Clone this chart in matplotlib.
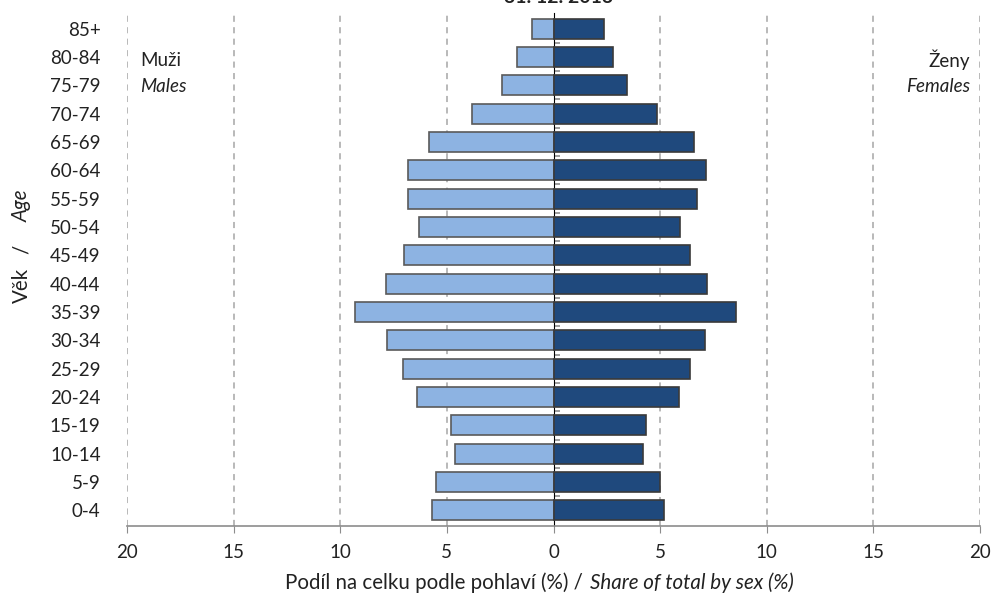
import matplotlib.pyplot as plt
import numpy as np

plt.rcParams['font.family'] = ['Lato', 'DejaVu Sans']

# věkové skupiny a podíly (%) podle pohlaví
vek = ['0-4', '5-9', '10-14', '15-19', '20-24', '25-29', '30-34', '35-39', '40-44',
       '45-49', '50-54', '55-59', '60-64', '65-69', '70-74', '75-79', '80-84', '85+']
muzi = [5.7, 5.5, 4.6, 4.8, 6.4, 7.05, 7.8, 9.3, 7.85,
        7.0, 6.3, 6.8, 6.8, 5.85, 3.8, 2.4, 1.7, 1.0]
zeny = [5.2, 5.0, 4.2, 4.35, 5.9, 6.4, 7.1, 8.55, 7.2,
        6.4, 5.95, 6.75, 7.15, 6.6, 4.85, 3.45, 2.8, 2.35]

y = np.arange(len(vek))
seda = '#8c8c8c'
txt = '#222222'
fs = 13.5

fig = plt.figure(figsize=(9.94, 6.02), dpi=100)
ax = fig.add_axes([127/994, 76/602, (980-127)/994, (589-76)/602])

# mřížka
for x in range(-20, 21, 5):
    if x != 0:
        ax.axvline(x, color='#a6a6a6', lw=1.1, ls=(0, (4, 3.5)), zorder=0)

ax.barh(y, -np.array(muzi), height=0.7, color='#8db3e2', edgecolor='#5a5a5a', lw=1.2, zorder=2)
ax.barh(y, zeny, height=0.7, color='#1f497d', edgecolor='#3a3a3a', lw=1.2, zorder=2)

ax.set_xlim(-20, 20)
ax.set_ylim(-0.55, len(vek) - 0.45)

ax.set_xticks(range(-20, 21, 5))
ax.set_xticklabels([str(abs(v)) for v in range(-20, 21, 5)], fontsize=fs, color=txt)
ax.set_yticks(y)
ax.set_yticklabels(vek, fontsize=fs, color=txt)
ax.tick_params(axis='y', length=0, pad=19)
ax.tick_params(axis='x', length=5, color=seda, pad=8)

for s in ['top', 'right', 'left']:
    ax.spines[s].set_visible(False)
ax.spines['bottom'].set_color(seda)
ax.spines['bottom'].set_linewidth(1.2)

# středová osa s dělicími značkami
osa = ax.secondary_yaxis(0.5)
osa.set_yticks(y[:-1] + 0.5)
osa.set_yticklabels([])
osa.tick_params(length=4, color=seda, width=1.2)
osa.spines['left'].set_color(seda)
osa.spines['left'].set_linewidth(1.2)

ax.text(0.015, 0.908, 'Muži', transform=ax.transAxes, fontsize=fs, color=txt, va='center')
ax.text(0.015, 0.856, 'Males', transform=ax.transAxes, fontsize=fs, color=txt,
        va='center', style='italic')
ax.text(0.988, 0.908, 'Ženy', transform=ax.transAxes, fontsize=fs, color=txt,
        va='center', ha='right')
ax.text(0.988, 0.856, 'Females', transform=ax.transAxes, fontsize=fs, color=txt,
        va='center', ha='right', style='italic')

# popisky os
fig.text(588/994, 1 - 583/602, 'Podíl na celku podle pohlaví (%) / ', fontsize=14.8,
         ha='right', va='center', color=txt)
fig.text(590/994, 1 - 583/602, 'Share of total by sex (%)', fontsize=14.8,
         ha='left', va='center', color=txt, style='italic')

fig.text(22/994, 1 - 285/602, 'Věk', rotation=90, fontsize=14.8, ha='center', va='center', color=txt)
fig.text(22/994, 1 - 249/602, '/', rotation=90, fontsize=14.8, ha='center', va='center', color=txt)
fig.text(22/994, 1 - 206/602, 'Age', rotation=90, fontsize=14.8, ha='center', va='center',
         color=txt, style='italic')

fig.text(559/994, 1 - 3/602, '31. 12. 2013', fontsize=14, fontweight='bold',
         ha='center', va='baseline', color=txt)

fig.savefig('out.png', dpi=100)
